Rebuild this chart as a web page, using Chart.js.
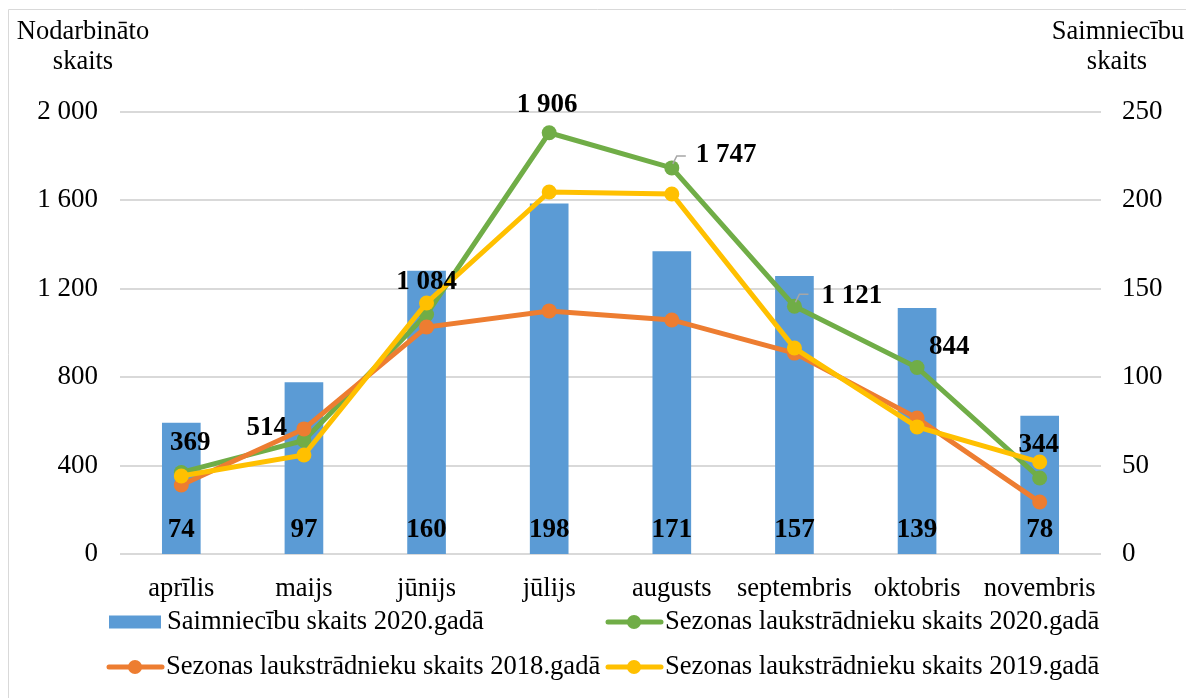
<!DOCTYPE html>
<html>
<head>
<meta charset="utf-8">
<script src="https://cdn.jsdelivr.net/npm/chart.js@4/dist/chart.umd.min.js"></script>
<style>
  html, body { margin: 0; padding: 0; background: #fff; }
  #wrap { width: 1186px; height: 698px; position: relative; }
</style>
</head>
<body>
<div id="wrap"><canvas id="chart"></canvas></div>
<script>
"use strict";
const months = ["aprīlis", "maijs", "jūnijs", "jūlijs", "augusts", "septembris", "oktobris", "novembris"];
const farms2020 = [74, 97, 160, 198, 171, 157, 139, 78];
const workers2020 = [369, 514, 1084, 1906, 1747, 1121, 844, 344];
const workers2018 = [312, 566, 1027, 1100, 1059, 909, 615, 235];
const workers2019 = [353, 448, 1136, 1638, 1629, 932, 575, 416];
const leftTicks = [0, 400, 800, 1200, 1600, 2000];
const rightTicks = [0, 50, 100, 150, 200, 250];

const FONT = "'Liberation Serif', 'Times New Roman', serif";
const BLUE = "#5B9BD5", ORANGE = "#ED7D31", GREEN = "#70AD47", YELLOW = "#FFC000";

// where each green label sits relative to its point: [dx, dy, align]
const greenLabelPos = [
    [9, -29, "center"], [-17, -12, "right"], [0, -32, "center"], [-2, -28, "center"],
    [24, -13, "left"], [27, -10, "left"], [12, -20, "left"], [-1, -33, "center"]
];
const leaderLines = { 4: true, 5: true };

function fmt(n) {
    return String(n).replace(/\B(?=(\d{3})+(?!\d))/g, " ");
}

const labelPlugin = {
    id: "labels",
    afterDatasetsDraw(chart) {
        const ctx = chart.ctx;
        ctx.save();
        ctx.fillStyle = "#000";
        ctx.font = "bold 27px " + FONT;
        ctx.textBaseline = "middle";
        // bar values near the bottom of each bar
        const barMeta = chart.getDatasetMeta(0);
        barMeta.data.forEach((bar, i) => {
            ctx.textAlign = "center";
            ctx.fillText(fmt(farms2020[i]), bar.x, chart.chartArea.bottom - 24);
        });
        // green line values
        const greenMeta = chart.getDatasetMeta(1);
        greenMeta.data.forEach((pt, i) => {
            const p = greenLabelPos[i];
            if (leaderLines[i]) {
                ctx.strokeStyle = "#a6a6a6";
                ctx.lineWidth = 1.5;
                ctx.beginPath();
                ctx.moveTo(pt.x + 1, pt.y - 4);
                ctx.lineTo(pt.x + 5, pt.y - 12);
                ctx.lineTo(pt.x + 14, pt.y - 12);
                ctx.stroke();
            }
            ctx.textAlign = p[2];
            ctx.fillText(fmt(workers2020[i]), pt.x + p[0], pt.y + p[1]);
        });
        ctx.restore();
    },
    afterDraw(chart) {
        const ctx = chart.ctx;
        ctx.save();
        // outer frame
        ctx.strokeStyle = "#d9d9d9";
        ctx.lineWidth = 1;
        ctx.beginPath();
        ctx.moveTo(8.5, 700);
        ctx.lineTo(8.5, 9.5);
        ctx.lineTo(1190, 9.5);
        ctx.stroke();
        // axis titles
        ctx.fillStyle = "#000";
        ctx.font = "26.5px " + FONT;
        ctx.textAlign = "center";
        ctx.textBaseline = "middle";
        ctx.fillText("Nodarbināto", 83, 32);
        ctx.fillText("skaits", 83, 62);
        ctx.fillText("Saimniecību", 1118, 32);
        ctx.fillText("skaits", 1117, 62);
        // legend
        ctx.textAlign = "left";
        const items = [
            { ds: 0, x: 108, y: 622 },
            { ds: 1, x: 606, y: 622 },
            { ds: 2, x: 107, y: 667 },
            { ds: 3, x: 606, y: 667 }
        ];
        items.forEach(it => {
            const ds = chart.data.datasets[it.ds];
            if (ds.type === "bar") {
                ctx.fillStyle = ds.backgroundColor;
                ctx.fillRect(it.x + 1, it.y - 6.5, 52, 13);
            } else {
                ctx.strokeStyle = ds.borderColor;
                ctx.lineWidth = 5;
                ctx.lineCap = "round";
                ctx.beginPath();
                ctx.moveTo(it.x + 2, it.y);
                ctx.lineTo(it.x + 55, it.y);
                ctx.stroke();
                ctx.fillStyle = ds.borderColor;
                ctx.beginPath();
                ctx.arc(it.x + 28, it.y, 7, 0, Math.PI * 2);
                ctx.fill();
            }
            ctx.fillStyle = "#000";
            ctx.font = "26.6px " + FONT;
            ctx.fillText(ds.label, it.x + 59, it.y);
        });
        ctx.restore();
    }
};

function lineSet(label, data, color, order) {
    return {
        type: "line",
        label: label,
        data: data,
        yAxisID: "y",
        borderColor: color,
        backgroundColor: color,
        borderWidth: 5,
        pointRadius: 7.5,
        pointHoverRadius: 7.5,
        pointBorderWidth: 0,
        tension: 0,
        order: order
    };
}

new Chart(document.getElementById("chart"), {
    data: {
        labels: months,
        datasets: [
            {
                type: "bar",
                label: "Saimniecību skaits 2020.gadā",
                data: farms2020,
                yAxisID: "y1",
                backgroundColor: BLUE,
                borderWidth: 0,
                barThickness: 38,
                order: 10
            },
            lineSet("Sezonas laukstrādnieku skaits 2020.gadā", workers2020, GREEN, 3),
            lineSet("Sezonas laukstrādnieku skaits 2018.gadā", workers2018, ORANGE, 2),
            lineSet("Sezonas laukstrādnieku skaits 2019.gadā", workers2019, YELLOW, 1)
        ]
    },
    options: {
        responsive: true,
        maintainAspectRatio: false,
        animation: false,
        layout: { padding: { top: 112, left: 0, right: 0, bottom: 0 } },
        plugins: {
            legend: { display: false },
            tooltip: { enabled: false }
        },
        scales: {
            x: {
                grid: { display: false },
                border: { display: false },
                ticks: { color: "#000", font: { family: FONT, size: 26.5 }, padding: 11, maxRotation: 0, autoSkip: false },
                afterFit(scale) { scale.height = 144; }
            },
            y: {
                position: "left",
                min: 0,
                max: 2000,
                afterBuildTicks(scale) { scale.ticks = leftTicks.map(v => ({ value: v })); },
                grid: { color: "#d9d9d9", lineWidth: 2, drawTicks: false },
                border: { display: false },
                ticks: { color: "#000", font: { family: FONT, size: 27 }, padding: 22, callback: v => fmt(v) },
                afterFit(scale) { scale.width = 120; }
            },
            y1: {
                position: "right",
                min: 0,
                max: 250,
                afterBuildTicks(scale) { scale.ticks = rightTicks.map(v => ({ value: v })); },
                grid: { display: false, drawTicks: false },
                border: { display: false },
                ticks: { color: "#000", font: { family: FONT, size: 27 }, padding: 21 },
                afterFit(scale) { scale.width = 85; }
            }
        }
    },
    plugins: [labelPlugin]
});
</script>
</body>
</html>
